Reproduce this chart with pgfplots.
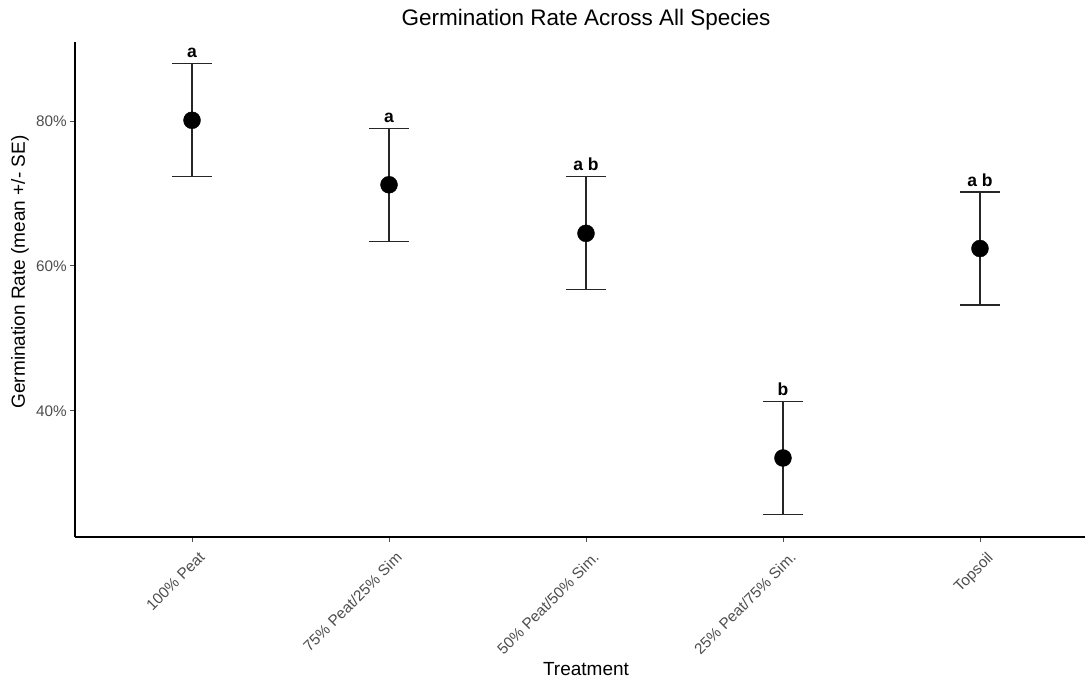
\documentclass[border=0pt]{standalone}
\usepackage{fontspec}
\setmainfont{Liberation Sans}
\usepackage{pgfplots}
\usepackage{pgfplotstable}
\pgfplotsset{compat=1.18}
\definecolor{gray30}{HTML}{4D4D4D}
\pgfplotstableread{
x y e lab
0 80.1 7.8 a
1 71.2 7.8 a
2 64.5 7.8 {a b}
3 33.5 7.8 b
4 62.4 7.8 {a b}
}\data
\begin{document}
\begin{tikzpicture}[x=1pt,y=1pt]
\useasboundingbox (0,0) rectangle (1085,679);
\begin{axis}[
  at={(75pt,142pt)}, anchor=south west,
  scale only axis, width=1010pt, height=495pt,
  xmin=-0.594, xmax=4.533, ymin=22.6, ymax=90.9,
  axis x line*=bottom, axis y line*=left,
  axis line style={black, line width=1.1pt},
  xtick={0,1,2,3,4},
  xticklabels={100\% Peat,75\% Peat/25\% Sim,50\% Peat/50\% Sim.,25\% Peat/75\% Sim.,Topsoil},
  ytick={40,60,80},
  /pgf/number format/assume math mode=true,
  yticklabel={\pgfmathprintnumber{\tick}\%},
  tick align=outside, major tick length=5pt,
  tick style={gray30, line width=0.9pt},
  every tick label/.append style={font=\fontsize{15.3}{17}\selectfont, text=gray30},
  x tick label style={xshift=6pt, yshift=-6pt, rotate=45, anchor=north east, inner sep=2pt},
  y tick label style={inner sep=3pt},
  clip=false,
]
\addplot[only marks, mark=*, mark size=8.5pt, mark options={fill=black, draw=black},
  error bars/.cd, y dir=both, y explicit,
  error bar style={line width=1.2pt, black!85},
  error mark options={rotate=90, mark size=20pt, line width=1.2pt, black!85}]
  table[x=x, y=y, y error=e] {\data};
\addplot[draw=none, mark=none, point meta=explicit symbolic,
  nodes near coords, nodes near coords style={anchor=base, yshift=6pt, font=\fontsize{17.5}{20}\bfseries\selectfont, text=black, inner sep=0pt}]
  table[x=x, y expr=\thisrow{y}+\thisrow{e}, meta=lab] {\data};
\end{axis}
\node[font=\fontsize{22.5}{26}\selectfont] at (586,659) {Germination Rate Across All Species};
\node[font=\fontsize{19}{22}\selectfont] at (586,10) {Treatment};
\node[font=\fontsize{19}{22}\selectfont, rotate=90] at (20,407) {Germination Rate (mean +/- SE)};
\end{tikzpicture}
\end{document}
